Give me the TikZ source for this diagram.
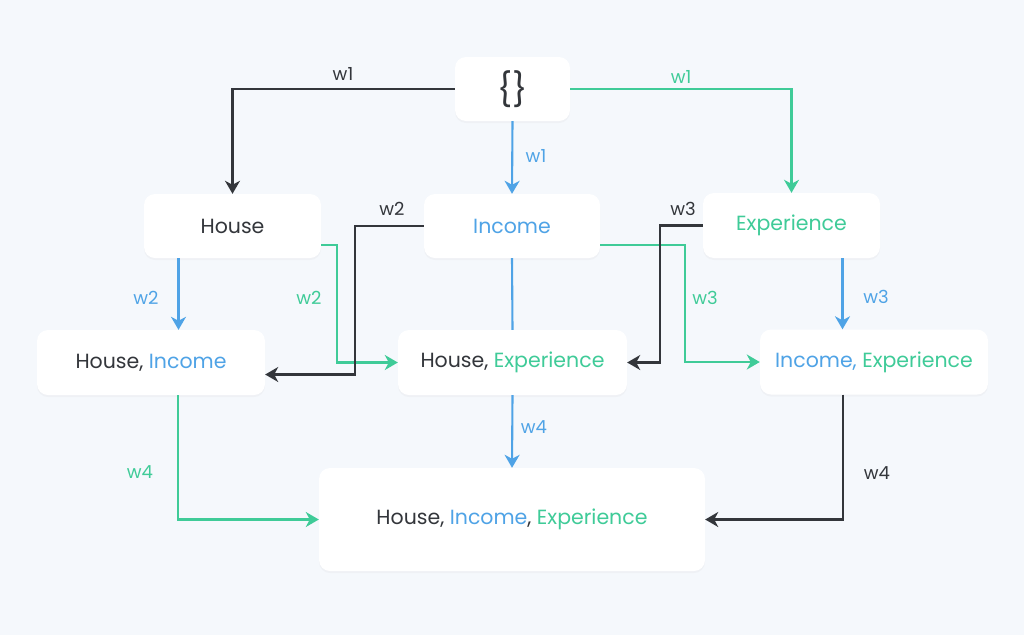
\documentclass[tikz,border=0pt]{standalone}
\usepackage{fontspec}
\setmainfont{Poppins}
\usetikzlibrary{arrows.meta,shadows}
\definecolor{bgc}{HTML}{F5F8FC}
\definecolor{ink}{HTML}{33363B}
\definecolor{cblue}{HTML}{4FA3E6}
\definecolor{cgreen}{HTML}{3FCB98}
\tikzset{
  box/.style={rectangle, rounded corners=11pt, fill=white, draw=none,
    drop shadow={opacity=0.05, shadow xshift=0pt, shadow yshift=-2pt},
    font=\fontsize{20.5}{24}\selectfont, text=ink, inner sep=0pt},
  conn/.style={line width=2.1pt, -{Stealth[length=13pt,width=15pt,inset=4pt]}},
  plain/.style={line width=2.1pt},
  lbl/.style={font=\fontsize{18}{21}\selectfont, inner sep=0pt},
}
\begin{document}
\begin{tikzpicture}[x=1pt,y=-1pt]
\fill[bgc] (0,0) rectangle (1024,635);
\useasboundingbox (0,0) rectangle (1024,635);

\node[box, minimum width=115pt, minimum height=64pt, font=\fontsize{33}{36}\selectfont] (root) at (512.5,89) {\{\}};
\node[box, minimum width=177pt, minimum height=64pt] (house) at (232.5,226) {House};
\node[box, minimum width=176pt, minimum height=64pt, text=cblue] (income) at (512,226) {Income};
\node[box, minimum width=177pt, minimum height=65pt, text=cgreen] (exp) at (791.5,225.5) {Experience};
\node[box, minimum width=228pt, minimum height=65pt] (hi) at (151,362.5) {House, \textcolor{cblue}{Income}};
\node[box, minimum width=229pt, minimum height=65pt] (he) at (512.5,362.5) {House, \textcolor{cgreen}{Experience}};
\node[box, minimum width=228pt, minimum height=65pt] (ie) at (874,362) {\textcolor{cblue}{Income,} \textcolor{cgreen}{Experience}};
\node[box, minimum width=386pt, minimum height=103pt] (hie) at (512,519.5) {House, \textcolor{cblue}{Income}, \textcolor{cgreen}{Experience}};

% level 1
\draw[conn, ink] (root.west) -| (house.north);
\draw[conn, cblue] (root.south) -- (income.north);
\draw[conn, cgreen] (root.east) -| (exp.north);

% level 2
\draw[conn, cblue] ([xshift=-54pt]house.south) -- ([xshift=-54pt]house.south |- hi.north);
\draw[conn, cgreen] ([yshift=-19pt]house.east) -- ++(16pt,0) |- (he.west);
\draw[conn, ink] (income.west) -- ++(-69pt,0) |- ([yshift=-12pt]hi.east);
\draw[plain, cblue] (income.south) -- (he.north);
\draw[conn, cgreen] ([yshift=-19pt]income.east) -- ++(85pt,0) |- (ie.west);
\draw[conn, ink] (exp.west) -- ++(-43pt,0) |- (he.east);
\draw[conn, cblue] ([xshift=51pt]exp.south) -- ([xshift=51pt]exp.south |- ie.north);

% level 3
\draw[conn, cgreen] ([xshift=27pt]hi.south) |- (hie.west);
\draw[conn, cblue] (he.south) -- (hie.north);
\draw[conn, ink] ([xshift=-31pt]ie.south) |- (hie.east);

% labels
\node[lbl, text=ink] (l1a) at (343,74) {w1};
\node[lbl, text=cblue] (l1b) at (536,156) {w1};
\node[lbl, text=cgreen] (l1c) at (681,77) {w1};
\node[lbl, text=ink] (l2a) at (392,209) {w2};
\node[lbl, text=cgreen] (l2b) at (309,298) {w2};
\node[lbl, text=cblue] (l2c) at (146,298) {w2};
\node[lbl, text=ink] (l3a) at (683,209) {w3};
\node[lbl, text=cgreen] (l3b) at (705,298) {w3};
\node[lbl, text=cblue] (l3c) at (876,297) {w3};
\node[lbl, text=cgreen] (l4a) at (140,472) {w4};
\node[lbl, text=cblue] (l4b) at (534,427) {w4};
\node[lbl, text=ink] (l4c) at (877,473) {w4};
\end{tikzpicture}
\end{document}
